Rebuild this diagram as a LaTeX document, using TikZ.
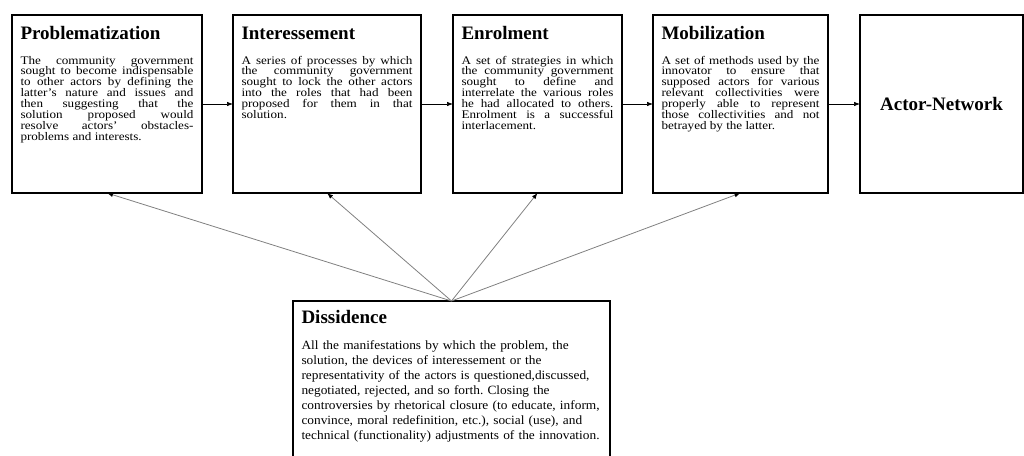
\documentclass[tikz,border=0pt]{standalone}
\usepackage{fontspec}
\setmainfont{Liberation Serif}
\newfontfamily\bodyfont[FakeStretch=1.13]{Liberation Serif}
\newfontfamily\disfont[FakeStretch=1.06]{Liberation Serif}
\usetikzlibrary{arrows.meta}
\frenchspacing

\tikzset{
  stage/.style={draw, line width=1.3pt, anchor=north west, outer sep=0pt,
    inner xsep=8.5pt, inner ysep=11pt, text height=13pt, text depth=143pt,
    align=justify, font=\bodyfont\fontsize{11.6}{10.9}\selectfont},
  goal/.style={draw, line width=1.3pt, anchor=north west, outer sep=0pt,
    minimum width=163pt, minimum height=178pt,
    font=\bfseries\fontsize{19}{22}\selectfont},
  dissent/.style={draw, line width=1.3pt, anchor=north west, outer sep=0pt,
    inner xsep=8.5pt, inner ysep=9pt, text width=300pt, text height=13pt,
    text depth=150pt, align=left, font=\disfont\fontsize{12.6}{15}\selectfont},
  flow/.style={-{Latex[length=6pt,width=4.5pt]}, line width=0.7pt},
  feedback/.style={-{Latex[length=6pt,width=4.5pt,color=black]}, draw=gray, line width=0.8pt}
}
\newcommand{\stagetitle}[2]{{\rmfamily\bfseries\fontsize{19}{22}\selectfont #1}\par\vspace{#2}}

\begin{document}
\begin{tikzpicture}[x=1pt,y=-1pt]
  \useasboundingbox (0,0) rectangle (1024,455);
  \clip (0,0) rectangle (1024,455);
  \node[stage, text width=173pt] (prob) at (12,15) {\stagetitle{Problematization}{14.1pt}%
    The community government\linebreak
    sought to become indispensable\linebreak
    to other actors by defining the\linebreak
    latter’s nature and issues and\linebreak
    then suggesting that the\linebreak
    solution proposed would\linebreak
    resolve actors’ obstacles-\linebreak
    problems and interests.};
  \node[stage, text width=171pt] (inter) at (233,15) {\stagetitle{Interessement}{14.1pt}%
    A series of processes by which\linebreak
    the community government\linebreak
    sought to lock the other actors\linebreak
    into the roles that had been\linebreak
    proposed for them in that\linebreak
    solution.};
  \node[stage, text width=152pt] (enrol) at (453,15) {\stagetitle{Enrolment}{14.1pt}%
    A set of strategies in which\linebreak
    the community government\linebreak
    sought to define and\linebreak
    interrelate the various roles\linebreak
    he had allocated to others.\linebreak
    Enrolment is a successful\linebreak
    interlacement.};
  \node[stage, text width=158pt] (mobil) at (653,15) {\stagetitle{Mobilization}{14.1pt}%
    A set of methods used by the\linebreak
    innovator to ensure that\linebreak
    supposed actors for various\linebreak
    relevant collectivities were\linebreak
    properly able to represent\linebreak
    those collectivities and not\linebreak
    betrayed by the latter.};
  \node[goal] (anet) at (860,15) {Actor-Network};
  \node[dissent] (dis) at (293,301) {\stagetitle{Dissidence}{11pt}%
    All the manifestations by which the problem, the\\
    solution, the devices of interessement or the\\
    representativity of the actors is questioned,discussed,\\
    negotiated, rejected, and so forth. Closing the\\
    controversies by rhetorical closure (to educate, inform,\\
    convince, moral redefinition, etc.), social (use), and\\
    technical (functionality) adjustments of the innovation.};

  \foreach \from/\to in {prob/inter,inter/enrol,enrol/mobil,mobil/anet}
    \draw[flow] (\from) -- (\to);
  \foreach \to in {prob,inter,enrol,mobil}
    \draw[feedback] (dis.north) -- (\to.south);
\end{tikzpicture}
\end{document}
